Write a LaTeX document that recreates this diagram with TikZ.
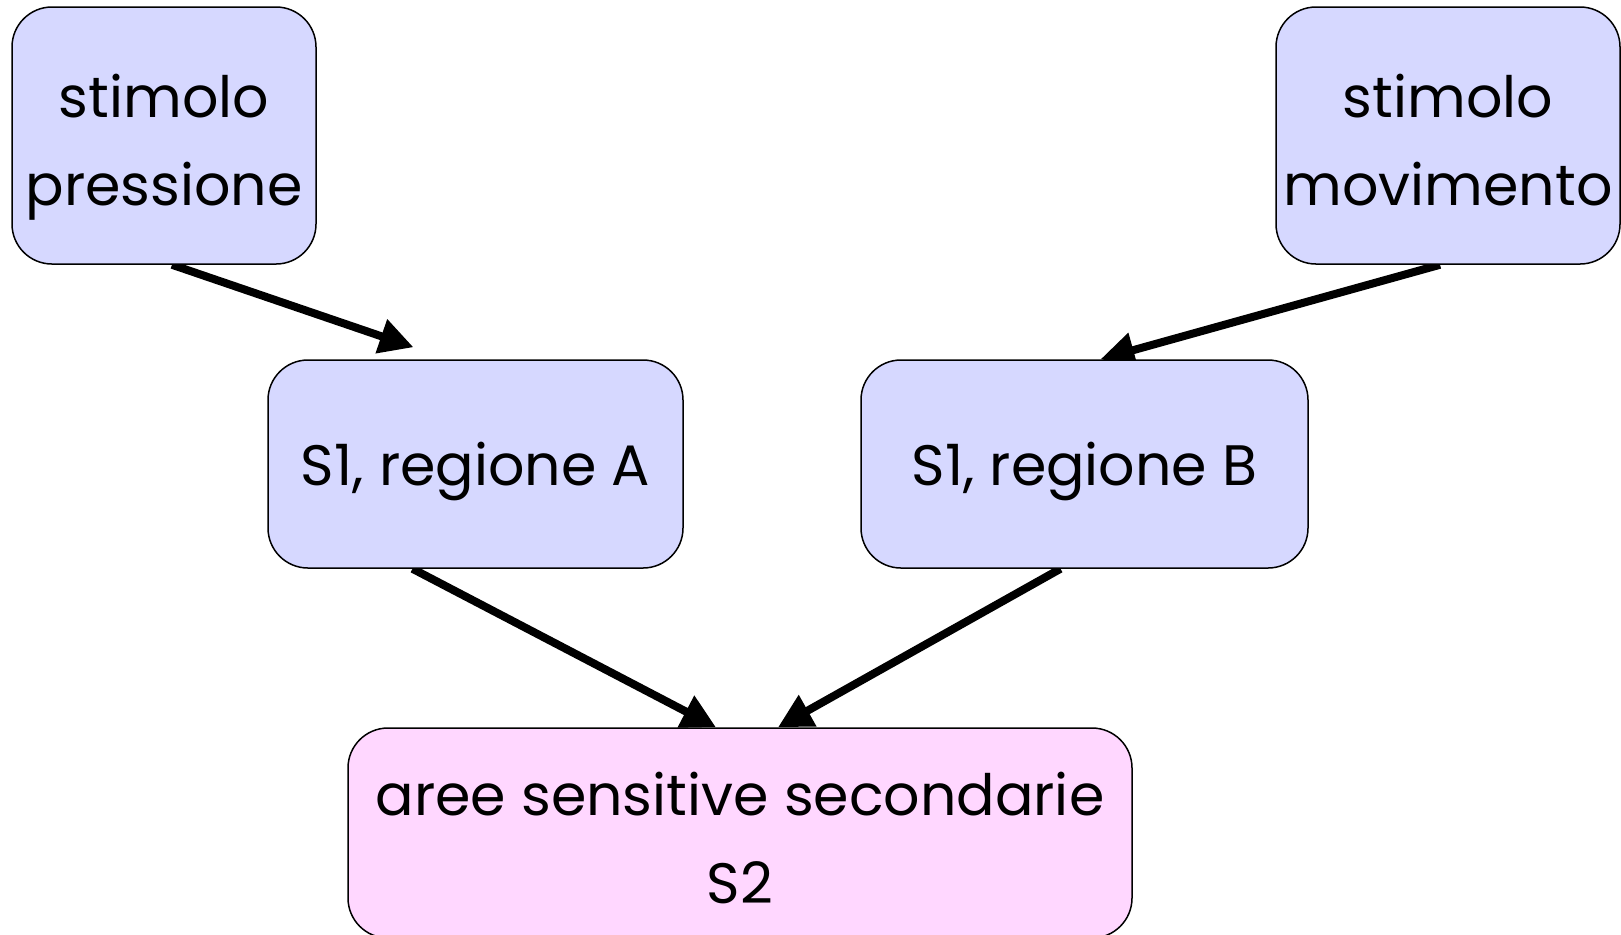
\documentclass[tikz,border=0pt]{standalone}
\usepackage{fontspec}
\setmainfont{Poppins}
\usepackage{xcolor}
\usepackage{tikz}
\usetikzlibrary{arrows.meta,backgrounds,calc}
\definecolor{boxblue}{HTML}{D6D8FF}
\definecolor{boxpink}{HTML}{FFD7FF}
\tikzset{area/.style={draw,line width=0.75pt,rounded corners=20pt,fill=boxblue,align=center,
    inner sep=0pt,font=\fontsize{28.5}{44}\selectfont}}
\tikzset{oneline/.style={text height=21pt,text depth=0pt}}
\tikzset{twoline/.style={text height=70pt,text depth=0pt}}
\tikzset{secarea/.style={area,fill=boxpink}}
\tikzset{link/.style={line width=4pt,-{Triangle[length=17pt,width=17pt]}}}

\begin{document}
\begin{tikzpicture}[x=0.5pt,y=-0.5pt]
	\useasboundingbox (0,0) rectangle (1621,934);
	\node[area,twoline,minimum width=152pt,minimum height=128.5pt] (press) at (164,135.5) {stimolo\\pressione};
	\node[area,twoline,minimum width=172pt,minimum height=128.5pt] (mov) at (1448,135.5) {stimolo\\movimento};
	\node[area,oneline,minimum width=207.5pt,minimum height=104pt] (s1a) at (475.5,464) {S1, regione A};
	\node[area,oneline,minimum width=223.5pt,minimum height=104pt] (s1b) at (1084.5,464) {S1, regione B};
	\node[secarea,twoline,minimum width=392pt,minimum height=105pt] (s2) at (740,833) {aree sensitive secondarie\\S2};
	% arrow heads go under the boxes
	\begin{scope}[on background layer]
		\draw[link] ([xshift=4pt]press.south) -- ([xshift=-31pt,yshift=6pt]s1a.north);
		\draw[link] ([xshift=-4pt]mov.south) -- ([xshift=8pt]s1b.north);
		\draw[link] ([xshift=-31.5pt]s1a.south) -- ([xshift=-12pt]s2.north);
		\draw[link] ([xshift=-12pt]s1b.south) -- ([xshift=19pt]s2.north);
	\end{scope}
\end{tikzpicture}
\end{document}
